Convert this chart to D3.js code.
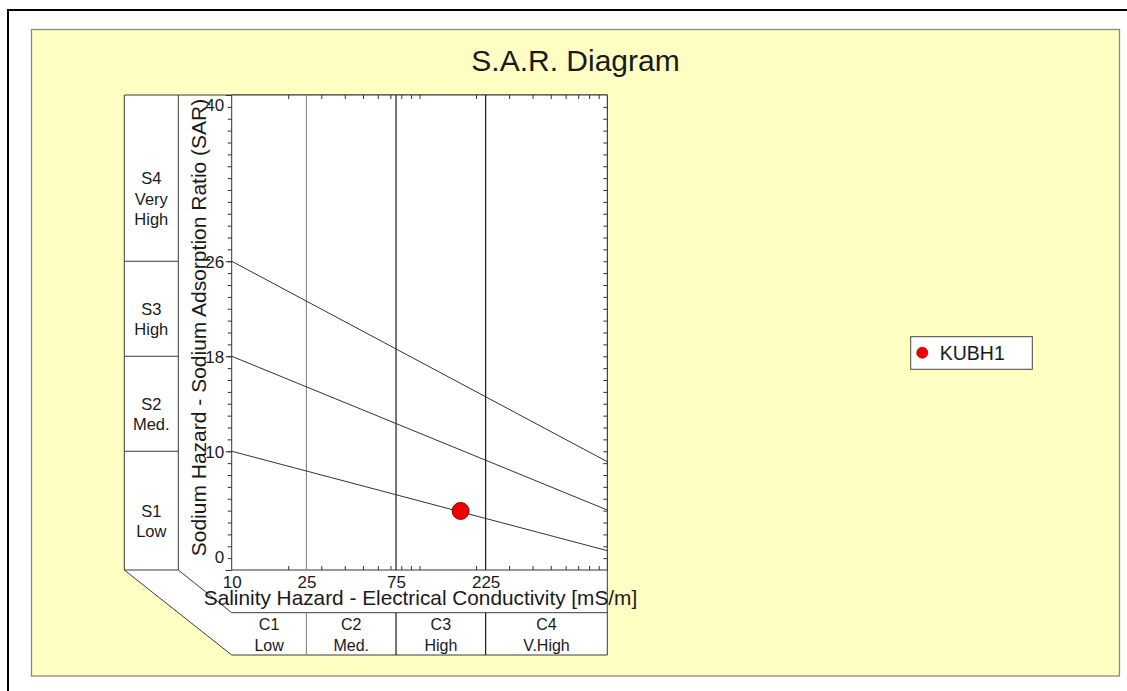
<!DOCTYPE html>
<html>
<head>
<meta charset="utf-8">
<script src="https://cdn.jsdelivr.net/npm/d3@7"></script>
<style>
  html, body { margin: 0; padding: 0; background: #ffffff; }
  svg { display: block; }
  text { font-family: "Liberation Sans", Arial, sans-serif; fill: #1a1a1a; }
</style>
</head>
<body>
<svg id="chart" width="1127" height="691"></svg>
<script>
// ---------------- data ----------------
const title = "S.A.R. Diagram";
const xTitle = "Salinity Hazard - Electrical Conductivity [mS/m]";
const yTitle = "Sodium Hazard - Sodium Adsorption Ratio (SAR)";

const ecDomain = [10, 1000];            // mS/m, log axis
const sarDomain = [0, 40];
const xTickValues = [10, 25, 75, 225];  // labelled EC ticks / class limits
const yTickValues = [0, 10, 18, 26, 40];// labelled SAR ticks

const cBounds = [10, 25, 75, 225, 1000];
const cLabels = [["C1", "Low"], ["C2", "Med."], ["C3", "High"], ["C4", "V.High"]];
const sBounds = [40, 26, 18, 10, 0];
const sLabels = [["S4", "Very", "High"], ["S3", "High"], ["S2", "Med."], ["S1", "Low"]];

// sodium hazard boundary lines: SAR at EC = 10 and EC = 1000
const boundaryEC = [10, 1000];
const boundaryStartSAR = [10, 18, 26];
const boundaryEndSAR = [1.63, 5.05, 9.12];

// samples
const sampleNames = ["KUBH1"];
const sampleEC = [165.5];
const sampleSAR = [4.97];

// ---------------- drawing ----------------
const svg = d3.select("#chart");

// outer black frame
svg.append("rect").attr("x", 8).attr("y", 10).attr("width", 1140).attr("height", 700)
  .attr("fill", "#ffffff").attr("stroke", "#000").attr("stroke-width", 2);

// yellow panel
svg.append("rect").attr("x", 31.5).attr("y", 29.5).attr("width", 1088).attr("height", 646.5)
  .attr("fill", "#ffffc4").attr("stroke", "#8a8a78").attr("stroke-width", 1.3);

svg.append("text").attr("x", 575.5).attr("y", 71).attr("text-anchor", "middle")
  .style("font-size", "30px").text(title);

const pL = 231.7, pR = 607.3, pT = 95, pB = 570;
const x = d3.scaleLog().domain(ecDomain).range([pL, pR]);
const y = d3.scaleLinear().domain(sarDomain).range([pB, pT]);

const sLeft = 124.3, sRight = 178.3;
const stripB = pB + 42.7, boxB = pB + 85;

// white region
svg.append("path")
  .attr("d", d3.line()([[sLeft, pT], [pR, pT], [pR, boxB], [pL, boxB], [sLeft, pB]]) + "Z")
  .attr("fill", "#ffffff").attr("stroke", "#3a3a3a").attr("stroke-width", 1);

const g = svg.append("g").attr("stroke", "#3a3a3a").attr("stroke-width", 1);
// S column
g.append("line").attr("x1", sRight).attr("x2", sRight).attr("y1", pT).attr("y2", pB);
g.append("line").attr("x1", sLeft).attr("x2", sRight).attr("y1", pB).attr("y2", pB);
g.selectAll(".sdiv").data(sBounds.slice(1, -1)).join("line")
  .attr("x1", sLeft).attr("x2", sRight).attr("y1", d => y(d)).attr("y2", d => y(d));
// diagonal + C strip
g.append("line").attr("x1", sRight).attr("y1", pB).attr("x2", pL).attr("y2", stripB);
g.append("line").attr("x1", pL).attr("x2", pR).attr("y1", stripB).attr("y2", stripB);

// plot frame
svg.append("rect").attr("x", pL).attr("y", pT).attr("width", pR - pL).attr("height", pB - pT)
  .attr("fill", "#fff").attr("stroke", "#333").attr("stroke-width", 1);

// class boundaries (vertical)
const vcol = d => d === 25 ? "#8c8c8c" : "#1a1a1a";
svg.selectAll(".vgrid").data(cBounds.slice(1, -1)).join("line")
  .attr("x1", d => x(d)).attr("x2", d => x(d)).attr("y1", pT).attr("y2", pB)
  .attr("stroke", vcol).attr("stroke-width", 1.2);
svg.selectAll(".vbox").data(cBounds.slice(1, -1)).join("line")
  .attr("x1", d => x(d)).attr("x2", d => x(d)).attr("y1", stripB).attr("y2", boxB)
  .attr("stroke", vcol).attr("stroke-width", 1.2);

// minor ticks
const minorX = [];
[10, 100].forEach(dec => { for (let k = 2; k <= 9; k++) minorX.push(k * dec); });
minorX.push(100);
const minorY = d3.range(1, 40);

function styleAxis(sel) {
  sel.select(".domain").remove();
  sel.selectAll("line").attr("stroke", "#333");
  sel.selectAll("text").style("font-size", "17px").attr("fill", "#1a1a1a");
}
svg.append("g").attr("transform", `translate(0,${pB})`)
  .call(d3.axisBottom(x).tickValues(minorX).tickSize(-4).tickFormat(""))
  .call(styleAxis);
svg.append("g").attr("transform", `translate(0,${pT})`)
  .call(d3.axisTop(x).tickValues(minorX).tickSize(-4).tickFormat(""))
  .call(styleAxis);
svg.append("g").attr("transform", `translate(${pR},0)`)
  .call(d3.axisRight(y).tickValues(minorY).tickSize(-4).tickFormat(""))
  .call(styleAxis);
svg.append("g").attr("transform", `translate(${pL},0)`)
  .call(d3.axisLeft(y).tickValues(minorY).tickSize(4).tickFormat(""))
  .call(styleAxis);

// labelled axes
const yAx = svg.append("g").attr("transform", `translate(${pL},0)`)
  .call(d3.axisLeft(y).tickValues(yTickValues).tickSize(6).tickPadding(1.5))
  .call(styleAxis);
yAx.selectAll(".tick text")
  .attr("dy", d => d === sarDomain[0] ? "-0.42em" : d === sarDomain[1] ? "0.92em" : "0.34em");

svg.append("g").attr("transform", `translate(0,${pB})`)
  .call(d3.axisBottom(x).tickValues(xTickValues).tickSize(0).tickPadding(5.5).tickFormat(d3.format("d")))
  .call(styleAxis);

// axis titles
svg.append("text").attr("x", (pL + pR) / 2 + 1).attr("y", pB + 35).attr("text-anchor", "middle")
  .style("font-size", "20.8px").text(xTitle);
svg.append("text").attr("transform", `translate(205.5,${(pT + pB) / 2 - 5}) rotate(-90)`)
  .attr("text-anchor", "middle").style("font-size", "21px").text(yTitle);

// S labels
sLabels.forEach((lines, i) => {
  const mid = (y(sBounds[i]) + y(sBounds[i + 1])) / 2;
  const t = svg.append("text").attr("text-anchor", "middle").style("font-size", "16.5px");
  lines.forEach((ln, j) => {
    t.append("tspan").attr("x", (sLeft + sRight) / 2).attr("y", mid + 6 + j * 20.5).text(ln);
  });
});
// C labels
cLabels.forEach((lines, i) => {
  const cx = (x(cBounds[i]) + x(cBounds[i + 1])) / 2;
  const t = svg.append("text").attr("text-anchor", "middle").style("font-size", "16px");
  lines.forEach((ln, j) => {
    t.append("tspan").attr("x", cx).attr("y", stripB + 17 + j * 21.5).text(ln);
  });
});

// boundary lines
const line = d3.line().x(d => x(d[0])).y(d => y(d[1]));
boundaryStartSAR.forEach((s, i) => {
  svg.append("path").attr("d", line([[boundaryEC[0], s], [boundaryEC[1], boundaryEndSAR[i]]]))
    .attr("fill", "none").attr("stroke", "#333").attr("stroke-width", 1);
});

// samples
svg.selectAll(".pt").data(sampleNames).join("circle")
  .attr("cx", (d, i) => x(sampleEC[i])).attr("cy", (d, i) => y(sampleSAR[i]))
  .attr("r", 8.5).attr("fill", "#ee0000").attr("stroke", "#8a0000").attr("stroke-width", 1);

// legend
const lg = svg.append("g").attr("transform", "translate(910.7,336.7)");
lg.append("rect").attr("width", 121.6).attr("height", 32.6)
  .attr("fill", "#fff").attr("stroke", "#444").attr("stroke-width", 1);
sampleNames.forEach((n, i) => {
  lg.append("circle").attr("cx", 11.6).attr("cy", 16 + i * 30).attr("r", 5.5)
    .attr("fill", "#ee0000").attr("stroke", "#b00000").attr("stroke-width", 0.8);
  lg.append("text").attr("x", 29).attr("y", 23 + i * 30).style("font-size", "19.5px").text(n);
});
</script>
</body>
</html>
